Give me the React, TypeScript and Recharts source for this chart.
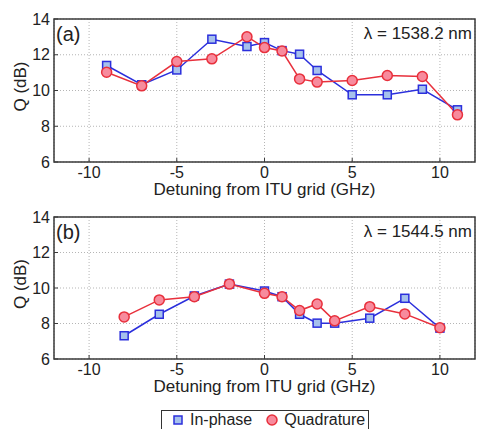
import { LineChart, Line, XAxis, YAxis, CartesianGrid, ReferenceArea } from "recharts";

// panel (a), lambda = 1538.2 nm
const X_A = [-9, -7, -5, -3, -1, 0, 1, 2, 3, 5, 7, 9, 11];
const IN_PHASE_A = [11.4, 10.32, 11.15, 12.87, 12.46, 12.68, 12.23, 12.03, 11.12, 9.76, 9.76, 10.07, 8.92];
const QUAD_A = [11.02, 10.26, 11.62, 11.77, 13.01, 12.4, 12.21, 10.65, 10.47, 10.56, 10.84, 10.78, 8.64];

// panel (b), lambda = 1544.5 nm
const X_B = [-8, -6, -4, -2, 0, 1, 2, 3, 4, 6, 8, 10];
const IN_PHASE_B = [7.31, 8.52, 9.55, 10.22, 9.83, 9.51, 8.52, 8.02, 8.02, 8.3, 9.42, 7.74];
const QUAD_B = [8.37, 9.33, 9.51, 10.22, 9.7, 9.51, 8.73, 9.1, 8.15, 8.95, 8.54, 7.76];

const X_TICKS = [-10, -5, 0, 5, 10];
const Y_TICKS = [6, 8, 10, 12, 14];

const FONT = "'Liberation Sans', Arial, sans-serif";
const BLUE = "#2b2fdc";
const BLUE_FILL = "#a6c1ec";
const RED = "#e8303c";
const RED_FILL = "#f78b9d";
const AXIS = "#3a3a3a";

function squareDot(props: any) {
  const { cx, cy, index } = props;
  if (cx == null || cy == null) return <g key={`s${index}`} />;
  return <rect key={`s${index}`} x={cx - 4} y={cy - 4} width={8} height={8} fill={BLUE_FILL} stroke={BLUE} strokeWidth={1.5} />;
}

function circleDot(props: any) {
  const { cx, cy, index } = props;
  if (cx == null || cy == null) return <g key={`c${index}`} />;
  return <circle key={`c${index}`} cx={cx} cy={cy} r={5} fill={RED_FILL} stroke={RED} strokeWidth={1.5} />;
}

function Panel({
  xs,
  inPhase,
  quad,
  tag,
  lambda,
  height,
  top,
}: {
  xs: number[];
  inPhase: number[];
  quad: number[];
  tag: string;
  lambda: string;
  height: number;
  top: number;
}) {
  const data = xs.map((x, i) => ({ x, inPhase: inPhase[i], quad: quad[i] }));
  const tick = { fill: "#222", fontSize: 16, fontFamily: FONT };
  return (
    <div style={{ position: "relative", width: 479, height }}>
      <LineChart width={479} height={height} data={data} margin={{ top, right: 4, bottom: 0, left: 0 }}>
        <CartesianGrid stroke="#b5b5b5" strokeDasharray="1 2" />
        <XAxis
          dataKey="x"
          type="number"
          domain={[-12, 12]}
          ticks={X_TICKS}
          height={38}
          tick={tick}
          tickSize={-4}
          tickMargin={9}
          stroke={AXIS}
          axisLine={false}
          label={{ value: "Detuning from ITU grid (GHz)", position: "insideBottom", offset: 5, style: { fill: "#222", fontSize: 17, fontFamily: FONT } }}
        />
        <YAxis
          type="number"
          domain={[6, 14]}
          ticks={Y_TICKS}
          width={54}
          tick={tick}
          tickSize={-4}
          tickMargin={8}
          stroke={AXIS}
          axisLine={false}
          label={{ value: "Q (dB)", angle: -90, position: "insideLeft", offset: 20, dy: -4, style: { fill: "#222", fontSize: 17, fontFamily: FONT, textAnchor: "middle" } }}
        />
        <ReferenceArea x1={-12} x2={12} y1={6} y2={14} fill="none" stroke={AXIS} strokeWidth={1.5} ifOverflow="visible" />
        <Line dataKey="inPhase" stroke={BLUE} strokeWidth={1.5} dot={squareDot} isAnimationActive={false} />
        <Line dataKey="quad" stroke={RED} strokeWidth={1.5} dot={circleDot} isAnimationActive={false} />
      </LineChart>
      <div style={{ position: "absolute", left: 56, top: top + 4, fontFamily: FONT, fontSize: 20, color: "#222" }}>{tag}</div>
      <div style={{ position: "absolute", right: 7, top: top + 5, fontFamily: FONT, fontSize: 17, color: "#222" }}>{lambda}</div>
    </div>
  );
}

export default function App() {
  return (
    <div style={{ position: "absolute", left: 0, top: 0, width: 479, height: 429, background: "#fff", overflow: "hidden" }}>
      <Panel xs={X_A} inPhase={IN_PHASE_A} quad={QUAD_A} tag="(a)" lambda="λ = 1538.2 nm" height={200} top={19} />
      <Panel xs={X_B} inPhase={IN_PHASE_B} quad={QUAD_B} tag="(b)" lambda="λ = 1544.5 nm" height={197} top={17} />
      <div
        style={{
          position: "absolute",
          left: 161,
          top: 410,
          height: 24,
          border: "1px solid #333",
          display: "flex",
          alignItems: "center",
          padding: "0 3px 4px 11px",
          fontFamily: FONT,
          fontSize: 16,
          color: "#222",
          boxSizing: "border-box",
        }}
      >
        <svg width={10} height={10} style={{ marginRight: 7 }}>
          <rect x={1} y={1} width={8} height={8} fill={BLUE_FILL} stroke={BLUE} strokeWidth={1.5} />
        </svg>
        <span style={{ marginRight: 14 }}>In-phase</span>
        <svg width={12} height={12} style={{ marginRight: 6 }}>
          <circle cx={6} cy={6} r={5} fill={RED_FILL} stroke={RED} strokeWidth={1.5} />
        </svg>
        <span>Quadrature</span>
      </div>
    </div>
  );
}
